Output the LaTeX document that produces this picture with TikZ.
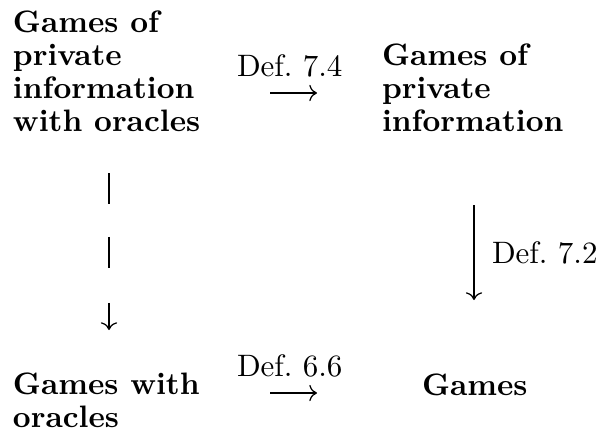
\documentclass[tikz,border=0pt]{standalone}
\usetikzlibrary{arrows.meta}
\begin{document}
\begin{tikzpicture}[x=0.3226pt,y=-0.3226pt,
  box/.style={font=\fontsize{10}{10.65}\bfseries\selectfont, align=left, inner sep=0pt, outer sep=0pt, anchor=north west},
  onebox/.style={font=\fontsize{10}{12}\bfseries\selectfont, inner sep=0pt, outer sep=0pt, anchor=base west},
  lab/.style={font=\fontsize{10}{12}\selectfont, inner sep=0pt, outer sep=0pt, anchor=base west},
  conn/.style={line width=0.4pt, -{Computer Modern Rightarrow}},
  dashconn/.style={conn, dash pattern=on 10pt off 10.6pt on 10pt off 11.3pt}]
\useasboundingbox (0,0) rectangle (604,430);
% nodes
\node[box] (A) at (13,10.5) {Games of\\private\\information\\with oracles};
\node[box] (B) at (382,43.5) {Games of\\private\\information};
\node[box] (C) at (13,372.5) {Games with\\oracles};
\node[onebox] (D) at (422,395) {Games};
% labels
\node[lab] (L1) at (237,76) {Def.~7.4};
\node[lab] (L2) at (492,263) {Def.~7.2};
\node[lab] (L3) at (237,376) {Def.~6.6};
% connector ends
\coordinate (ab1) at (270,93);
\coordinate (ab2) at (317,93);
\coordinate (cd1) at (270,393);
\coordinate (cd2) at (317,393);
\coordinate (bd1) at (474,205);
\coordinate (bd2) at (474,300);
\coordinate (ac1) at (109,173);
\coordinate (ac2) at (109,330);
% connectors
\draw[conn] (ab1) -- (ab2);
\draw[conn] (cd1) -- (cd2);
\draw[conn] (bd1) -- (bd2);
\draw[dashconn] (ac1) -- (ac2);
\end{tikzpicture}
\end{document}
